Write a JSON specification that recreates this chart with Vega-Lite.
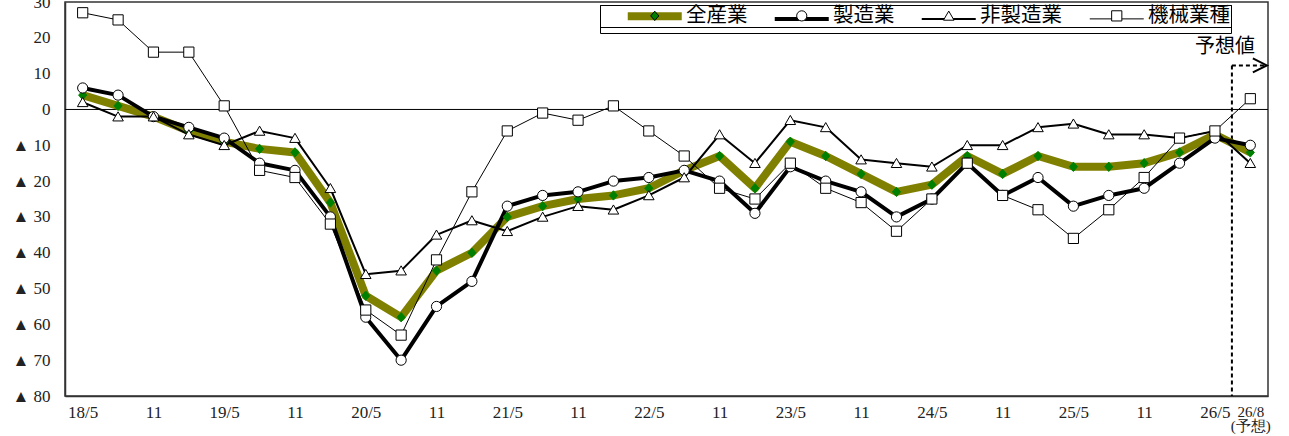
{
  "$schema": "https://vega.github.io/schema/vega-lite/v6.json",
  "width": 1203,
  "height": 394,
  "autosize": {"type": "none"},
  "padding": {"left": 65, "top": 2, "right": 21, "bottom": 40},
  "background": "white",
  "config": {
    "view": {"stroke": "#333", "strokeWidth": 1.5},
    "axis": {"grid": false, "ticks": false, "domainColor": "#333", "domainWidth": 1.5, "labelColor": "#222", "labelFont": "Liberation Serif", "labelFontSize": 17, "title": null, "labelOverlap": false, "labelFlush": false, "labelBound": false}
  },
  "layer": [
    {
      "data": {"values": [{}]},
      "mark": {"type": "rule", "color": "black", "strokeWidth": 1},
      "encoding": {"y": {"datum": 0, "type": "quantitative", "scale": {"domain": [-80, 30], "nice": false, "zero": false},
        "axis": {"values": [-80, -70, -60, -50, -40, -30, -20, -10, 0, 10, 20, 30], "tickCount": 24, "labelPadding": 15, "labelOverlap": false, "labelExpr": "datum.value < 0 ? '▲ ' + (-datum.value) : '' + datum.value"}}}
    },
    {
      "data": {"values": [{}]},
      "mark": {"type": "rule", "color": "black", "strokeWidth": 2, "strokeDash": [4, 3]},
      "encoding": {
        "x": {"datum": 32.48, "type": "quantitative", "scale": {"domain": [-0.5, 33.5], "nice": false, "zero": false},
          "axis": {"values": [0, 2, 4, 6, 8, 10, 12, 14, 16, 18, 20, 22, 24, 26, 28, 30, 32, 33], "tickCount": 40, "labelPadding": 8, "labelLineHeight": 14, "labelOverlap": false,
            "labelFontSize": {"condition": {"test": "datum.value == 33", "value": 15}, "value": 17},
            "labelExpr": "datum.value == 33 ? ['26/8', '(予想)'] : (datum.value % 4 == 0 ? (18 + datum.value / 4) + '/5' : '11')"}},
        "y": {"datum": 12.3, "type": "quantitative",
          "axis": {"values": [-80, -70, -60, -50, -40, -30, -20, -10, 0, 10, 20, 30], "tickCount": 24, "labelPadding": 15, "labelOverlap": false, "labelExpr": "datum.value < 0 ? '▲ ' + (-datum.value) : '' + datum.value"}},
        "y2": {"datum": -80}}
    },
    {
      "data": {"values": [{}]},
      "mark": {"type": "rule", "color": "black", "strokeWidth": 2, "strokeDash": [4, 3]},
      "encoding": {"x": {"datum": 32.48, "type": "quantitative"}, "x2": {"datum": 33.4}, "y": {"datum": 12.3, "type": "quantitative"}}
    },
    {
      "data": {"values": [{}]},
      "mark": {"type": "point", "shape": "M-1,-1L1,0L-1,1", "filled": false, "stroke": "black", "strokeWidth": 2, "size": 196, "opacity": 1},
      "encoding": {"x": {"datum": 33.27, "type": "quantitative"}, "y": {"datum": 12.3, "type": "quantitative"}}
    },
    {
      "data": {"values": [{"label": "予想値"}]},
      "mark": {"type": "text", "font": "Noto Sans CJK JP", "fontSize": 20, "align": "right", "baseline": "middle", "color": "black"},
      "encoding": {"x": {"datum": 33.13, "type": "quantitative"}, "y": {"datum": 17.4, "type": "quantitative"}, "text": {"field": "label"}}
    },
    {
      "data": {"values": [
        {"t": 0, "period": "18/5", "全産業": 4, "製造業": 6, "非製造業": 2, "機械業種": 27},
        {"t": 1, "period": "18/8", "全産業": 1, "製造業": 4, "非製造業": -2, "機械業種": 25},
        {"t": 2, "period": "18/11", "全産業": -2, "製造業": -2, "非製造業": -2, "機械業種": 16},
        {"t": 3, "period": "19/2", "全産業": -6, "製造業": -5, "非製造業": -7, "機械業種": 16},
        {"t": 4, "period": "19/5", "全産業": -9, "製造業": -8, "非製造業": -10, "機械業種": 1},
        {"t": 5, "period": "19/8", "全産業": -11, "製造業": -15, "非製造業": -6, "機械業種": -17},
        {"t": 6, "period": "19/11", "全産業": -12, "製造業": -17, "非製造業": -8, "機械業種": -19},
        {"t": 7, "period": "20/2", "全産業": -26, "製造業": -30, "非製造業": -22, "機械業種": -32},
        {"t": 8, "period": "20/5", "全産業": -52, "製造業": -58, "非製造業": -46, "機械業種": -56},
        {"t": 9, "period": "20/8", "全産業": -58, "製造業": -70, "非製造業": -45, "機械業種": -63},
        {"t": 10, "period": "20/11", "全産業": -45, "製造業": -55, "非製造業": -35, "機械業種": -42},
        {"t": 11, "period": "21/2", "全産業": -40, "製造業": -48, "非製造業": -31, "機械業種": -23},
        {"t": 12, "period": "21/5", "全産業": -30, "製造業": -27, "非製造業": -34, "機械業種": -6},
        {"t": 13, "period": "21/8", "全産業": -27, "製造業": -24, "非製造業": -30, "機械業種": -1},
        {"t": 14, "period": "21/11", "全産業": -25, "製造業": -23, "非製造業": -27, "機械業種": -3},
        {"t": 15, "period": "22/2", "全産業": -24, "製造業": -20, "非製造業": -28, "機械業種": 1},
        {"t": 16, "period": "22/5", "全産業": -22, "製造業": -19, "非製造業": -24, "機械業種": -6},
        {"t": 17, "period": "22/8", "全産業": -17, "製造業": -17, "非製造業": -19, "機械業種": -13},
        {"t": 18, "period": "22/11", "全産業": -13, "製造業": -20, "非製造業": -7, "機械業種": -22},
        {"t": 19, "period": "23/2", "全産業": -22, "製造業": -29, "非製造業": -15, "機械業種": -25},
        {"t": 20, "period": "23/5", "全産業": -9, "製造業": -16, "非製造業": -3, "機械業種": -15},
        {"t": 21, "period": "23/8", "全産業": -13, "製造業": -20, "非製造業": -5, "機械業種": -22},
        {"t": 22, "period": "23/11", "全産業": -18, "製造業": -23, "非製造業": -14, "機械業種": -26},
        {"t": 23, "period": "24/2", "全産業": -23, "製造業": -30, "非製造業": -15, "機械業種": -34},
        {"t": 24, "period": "24/5", "全産業": -21, "製造業": -25, "非製造業": -16, "機械業種": -25},
        {"t": 25, "period": "24/8", "全産業": -13, "製造業": -15, "非製造業": -10, "機械業種": -15},
        {"t": 26, "period": "24/11", "全産業": -18, "製造業": -24, "非製造業": -10, "機械業種": -24},
        {"t": 27, "period": "25/2", "全産業": -13, "製造業": -19, "非製造業": -5, "機械業種": -28},
        {"t": 28, "period": "25/5", "全産業": -16, "製造業": -27, "非製造業": -4, "機械業種": -36},
        {"t": 29, "period": "25/8", "全産業": -16, "製造業": -24, "非製造業": -7, "機械業種": -28},
        {"t": 30, "period": "25/11", "全産業": -15, "製造業": -22, "非製造業": -7, "機械業種": -19},
        {"t": 31, "period": "26/2", "全産業": -12, "製造業": -15, "非製造業": -8, "機械業種": -8},
        {"t": 32, "period": "26/5", "全産業": -7, "製造業": -8, "非製造業": -6, "機械業種": -6},
        {"t": 33, "period": "26/8", "全産業": -12, "製造業": -10, "非製造業": -15, "機械業種": 3}
      ]},
      "transform": [{"fold": ["全産業", "製造業", "非製造業", "機械業種"], "as": ["series", "value"]}],
      "layer": [
        {
          "mark": {"type": "line", "strokeJoin": "round"},
          "encoding": {
            "x": {"field": "t", "type": "quantitative", "scale": {"domain": [-0.5, 33.5], "nice": false, "zero": false},
              "axis": {"values": [0, 2, 4, 6, 8, 10, 12, 14, 16, 18, 20, 22, 24, 26, 28, 30, 32, 33], "tickCount": 40, "labelPadding": 8, "labelLineHeight": 14, "labelOverlap": false,
                "labelFontSize": {"condition": {"test": "datum.value == 33", "value": 15}, "value": 17},
                "labelExpr": "datum.value == 33 ? ['26/8', '(予想)'] : (datum.value % 4 == 0 ? (18 + datum.value / 4) + '/5' : '11')"}},
            "y": {"field": "value", "type": "quantitative", "scale": {"domain": [-80, 30], "nice": false, "zero": false},
              "axis": {"values": [-80, -70, -60, -50, -40, -30, -20, -10, 0, 10, 20, 30], "tickCount": 24, "labelPadding": 15, "labelOverlap": false,
                "labelExpr": "datum.value < 0 ? '▲ ' + (-datum.value) : '' + datum.value"}},
            "stroke": {"field": "series", "type": "nominal",
              "scale": {"domain": ["全産業", "_a", "_b", "_c", "製造業", "_d", "非製造業", "機械業種"], "range": ["#808000", "#000000", "#000000", "#000000", "#000000", "#000000", "#000000", "#000000"]},
              "legend": {"orient": "none", "legendX": 535, "legendY": 3, "direction": "horizontal", "title": null, "values": ["全産業", "製造業", "非製造業", "機械業種"],
                "symbolType": "M-4.5,0H4.5", "symbolSize": 144, "labelOpacity": 0,
                "labelFont": "Noto Sans CJK JP", "labelFontSize": 20.5, "labelColor": "black", "strokeColor": "black", "padding": 0.5, "columnPadding": 0, "labelOffset": 21, "symbolOffset": 44}},
            "strokeWidth": {"field": "series", "type": "nominal",
              "scale": {"domain": ["全産業", "_a", "_b", "_c", "製造業", "_d", "非製造業", "機械業種"], "range": [8, 1], "padding": 0},
              "legend": {"orient": "none", "legendX": 535, "legendY": 3, "direction": "horizontal", "title": null, "values": ["全産業", "製造業", "非製造業", "機械業種"],
                "symbolType": "M-4.5,0H4.5", "symbolSize": 144, "labelOpacity": 0,
                "labelFont": "Noto Sans CJK JP", "labelFontSize": 20.5, "labelColor": "black", "strokeColor": "black", "padding": 0.5, "columnPadding": 0, "labelOffset": 21, "symbolOffset": 44}}
          }
        },
        {
          "mark": {"type": "point", "filled": true, "size": 144, "strokeWidth": 1, "opacity": 1},
          "encoding": {
            "x": {"field": "t", "type": "quantitative"},
            "y": {"field": "value", "type": "quantitative"},
            "shape": {"field": "series", "type": "nominal",
              "scale": {"domain": ["全産業", "製造業", "非製造業", "機械業種"], "range": [
                "M0,-0.78L0.68,0L0,0.78L-0.68,0Z",
                "M0.85,0A0.85,0.85 0 1,1 -0.85,0A0.85,0.85 0 1,1 0.85,0Z",
                "M0,-0.8L0.88,0.72L-0.88,0.72Z",
                "M-0.85,-0.85H0.85V0.85H-0.85Z"]},
              "legend": {"orient": "none", "legendX": 535, "legendY": 3, "direction": "horizontal", "title": null, "symbolSize": 144, "symbolStrokeWidth": 1,
                "labelFont": "Noto Sans CJK JP", "labelFontSize": 20.5, "labelColor": "black", "strokeColor": "black", "padding": 0.5, "columnPadding": 0, "labelOffset": 21, "symbolOffset": 44}},
            "fill": {"field": "series", "type": "nominal",
              "scale": {"domain": ["全産業", "製造業", "非製造業", "機械業種"], "range": ["#008000", "white", "white", "white"]},
              "legend": {"orient": "none", "legendX": 535, "legendY": 3, "direction": "horizontal", "title": null, "symbolSize": 144, "symbolStrokeWidth": 1,
                "labelFont": "Noto Sans CJK JP", "labelFontSize": 20.5, "labelColor": "black", "strokeColor": "black", "padding": 0.5, "columnPadding": 0, "labelOffset": 21, "symbolOffset": 44}},
            "stroke": {"condition": {"test": "datum.series === '全産業'", "value": "#008000"}, "value": "black"}
          }
        }
      ]
    }
  ]
}
